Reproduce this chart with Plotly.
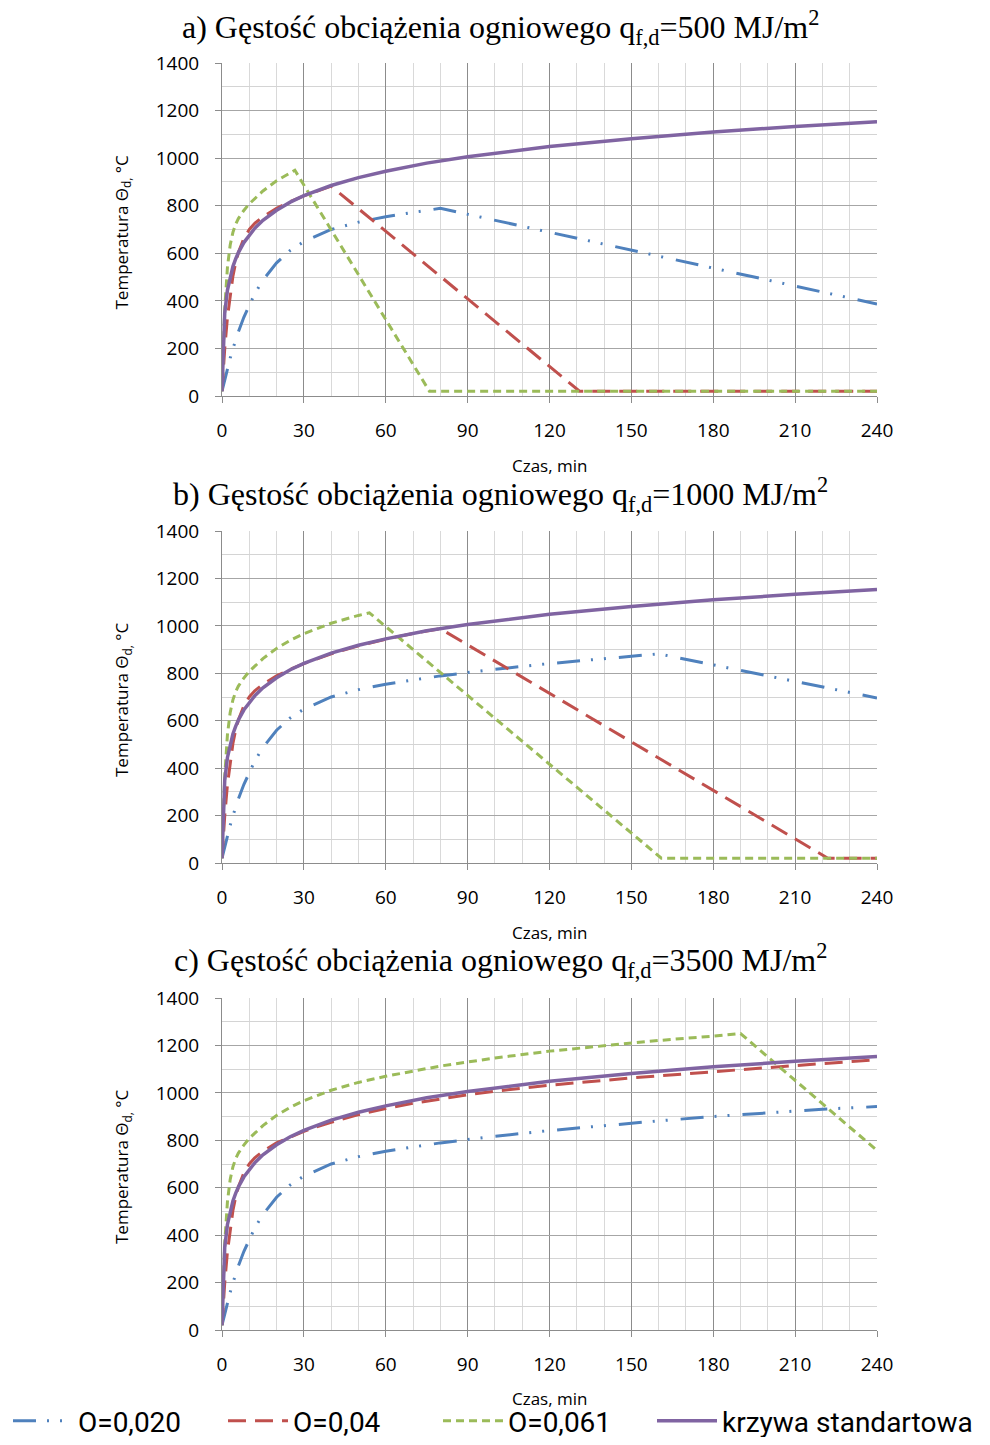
import plotly.graph_objects as go

# ---------------- data ----------------
T_STD = [0, 0.5, 1, 2, 3, 4, 5, 6, 8, 10, 12, 15, 20, 25, 30, 40, 50, 60, 75, 90, 105, 120, 150, 180, 210, 240]
STD = [20, 261, 349, 445, 502, 544, 576, 603, 645, 678, 705, 739, 781, 815, 842, 885, 918, 945, 979, 1006, 1029, 1049, 1082, 1110, 1133, 1153]

# panel a) q = 500 MJ/m2
A_T_020 = [0, 1, 2, 3, 4, 5, 6, 8, 10, 12, 15, 20, 25, 30, 40, 50, 60, 70, 80, 240]
A_020 = [20, 70, 116, 159, 199, 236, 270, 331, 384, 430, 487, 560, 612, 649, 700, 731, 754, 773, 789, 387]
A_T_04 = [0, 0.5, 1, 2, 3, 4, 5, 6, 8, 10, 12, 15, 20, 25, 30, 35, 40, 131, 240]
A_04 = [20, 116, 199, 331, 430, 504, 560, 603, 662, 700, 726, 754, 789, 817, 841, 863, 882, 20, 20]
A_T_061 = [0, 0.5, 1, 2, 3, 4, 5, 6, 8, 10, 12, 15, 20, 25, 26.7, 76, 240]
A_061 = [20, 223, 366, 542, 635, 688, 722, 746, 780, 808, 831, 862, 905, 939, 949, 20, 20]

# panel b) q = 1000 MJ/m2
B_T_020 = [0, 1, 2, 3, 4, 5, 6, 8, 10, 12, 15, 20, 25, 30, 40, 50, 60, 70, 80, 90, 100, 120, 140, 160, 240]
B_020 = [20, 70, 116, 159, 199, 236, 270, 331, 384, 430, 487, 560, 612, 649, 700, 731, 754, 773, 789, 803, 817, 841, 863, 882, 696]
B_T_04 = [0, 0.5, 1, 2, 3, 4, 5, 6, 8, 10, 12, 15, 20, 25, 30, 35, 40, 50, 60, 70, 80, 222, 240]
B_04 = [20, 116, 199, 331, 430, 504, 560, 603, 662, 700, 726, 754, 789, 817, 841, 863, 882, 916, 944, 968, 988, 20, 20]
B_T_061 = [0, 0.5, 1, 2, 3, 4, 5, 6, 8, 10, 12, 15, 20, 25, 30, 40, 50, 54, 161, 240]
B_061 = [20, 223, 366, 542, 635, 688, 722, 746, 780, 808, 831, 862, 905, 939, 967, 1011, 1044, 1055, 20, 20]

# panel c) q = 3500 MJ/m2
C_T_020 = [0, 1, 2, 3, 4, 5, 6, 8, 10, 12, 15, 20, 25, 30, 40, 50, 60, 70, 80, 90, 100, 120, 140, 160, 180, 200, 220, 240]
C_020 = [20, 70, 116, 159, 199, 236, 270, 331, 384, 430, 487, 560, 612, 649, 700, 731, 754, 773, 789, 803, 817, 841, 863, 882, 900, 916, 931, 942]
C_T_04 = [0, 0.5, 1, 2, 3, 4, 5, 6, 8, 10, 12, 15, 20, 25, 30, 35, 40, 50, 60, 70, 80, 90, 100, 120, 150, 180, 210, 240]
C_04 = [20, 116, 199, 331, 430, 504, 560, 603, 662, 700, 726, 754, 789, 815, 838, 858, 876, 908, 934, 956, 975, 992, 1007, 1032, 1063, 1090, 1115, 1140]
C_T_061 = [0, 0.5, 1, 2, 3, 4, 5, 6, 8, 10, 12, 15, 20, 25, 30, 40, 50, 60, 80, 100, 120, 140, 160, 180, 190, 240]
C_061 = [20, 223, 366, 542, 635, 688, 722, 746, 780, 808, 831, 862, 905, 939, 967, 1011, 1044, 1070, 1113, 1147, 1176, 1200, 1221, 1239, 1250, 757]

SERIES_NAMES = ["O=0,020", "O=0,04", "O=0,061", "krzywa standartowa"]
PANEL_TITLES = [
    "a) Gęstość obciążenia ogniowego q<sub>f,d</sub>=500 MJ/m<sup>2</sup>",
    "b) Gęstość obciążenia ogniowego q<sub>f,d</sub>=1000 MJ/m<sup>2</sup>",
    "c) Gęstość obciążenia ogniowego q<sub>f,d</sub>=3500 MJ/m<sup>2</sup>",
]
X_TITLE = "Czas, min"
Y_TITLE = "Temperatura Θ<sub>d,</sub> °C"

PANELS = [
    [(A_T_020, A_020), (A_T_04, A_04), (A_T_061, A_061), (T_STD, STD)],
    [(B_T_020, B_020), (B_T_04, B_04), (B_T_061, B_061), (T_STD, STD)],
    [(C_T_020, C_020), (C_T_04, C_04), (C_T_061, C_061), (T_STD, STD)],
]

# ---------------- styling ----------------
OFF = 8                      # default page margin of the html body
W, H = 990 - 2 * OFF, 1445 - 2 * OFF
COLORS = ["#4F81BD", "#C0504D", "#9BBB59", "#8064A2"]
DASHES = ["23px,11px,2px,11px,2px,13px", "18px,9px", "8px,5px", "solid"]
WIDTHS = [3, 3, 3, 3.5]
LEGENDS = ["legend", "legend", "legend", "legend2"]
TICK_FONT = dict(family="Open Sans, sans-serif", size=19, color="#000000")

X0, X1 = 222, 877
PLOT_Y = [(63, 396), (531, 863), (998, 1330)]
TITLE_Y = [27, 494, 960]
XT_Y = [465, 932, 1398]
LEGEND_Y = 1421


def px_x(p):
    return (p - OFF) / W


def px_y(p):
    return 1 - (p - OFF) / H


fig = go.Figure()
layout = dict(
    width=W, height=H,
    margin=dict(l=0, r=0, t=0, b=0, pad=0, autoexpand=False),
    paper_bgcolor="white", plot_bgcolor="white",
    showlegend=True,
)
annotations = []

for i, series in enumerate(PANELS):
    xa = "x" if i == 0 else f"x{i+1}"
    ya = "y" if i == 0 else f"y{i+1}"
    for j, (tx, ty) in enumerate(series):
        fig.add_trace(go.Scatter(
            x=tx, y=ty, mode="lines", name=SERIES_NAMES[j],
            legendgroup=SERIES_NAMES[j], showlegend=(i == 0), legend=LEGENDS[j],
            line=dict(color=COLORS[j], width=WIDTHS[j], dash=DASHES[j]),
            xaxis=xa, yaxis=ya,
        ))
    top, bot = PLOT_Y[i]
    xkey = "xaxis" if i == 0 else f"xaxis{i+1}"
    ykey = "yaxis" if i == 0 else f"yaxis{i+1}"
    layout[xkey] = dict(
        domain=[px_x(X0), px_x(X1)], anchor=ya, range=[0, 240],
        tick0=0, dtick=30, showgrid=True, gridcolor="#8c8c8c", gridwidth=1,
        minor=dict(dtick=10, showgrid=True, gridcolor="#d9d9d9", gridwidth=1),
        ticks="outside", ticklen=6, tickcolor="#8c8c8c",
        showline=True, linecolor="#8c8c8c", linewidth=1,
        zeroline=False, tickfont=TICK_FONT, ticklabelstandoff=11,
        fixedrange=True, automargin=False,
    )
    layout[ykey] = dict(
        domain=[px_y(bot), px_y(top)], anchor=xa, range=[0, 1400],
        tick0=0, dtick=200, showgrid=True, gridcolor="#a6a6a6", gridwidth=1,
        minor=dict(dtick=100, showgrid=True, gridcolor="#d4d4d4", gridwidth=1),
        ticks="outside", ticklen=6, tickcolor="#8c8c8c",
        showline=True, linecolor="#8c8c8c", linewidth=1,
        zeroline=False, tickfont=TICK_FONT, ticklabelstandoff=12,
        fixedrange=True, automargin=False,
    )
    annotations.append(dict(
        text=PANEL_TITLES[i], x=px_x(500), y=px_y(TITLE_Y[i]), xref="paper", yref="paper",
        xanchor="center", yanchor="middle", showarrow=False,
        font=dict(family="Liberation Serif, Times New Roman, serif", size=32, color="#000000"),
    ))
    annotations.append(dict(
        text=X_TITLE, x=px_x((X0 + X1) / 2), y=px_y(XT_Y[i]), xref="paper", yref="paper",
        xanchor="center", yanchor="middle", showarrow=False,
        font=dict(family="Open Sans, sans-serif", size=17, color="#000000"),
    ))
    annotations.append(dict(
        text=Y_TITLE, x=px_x(122), y=px_y((top + bot) / 2 + 3), xref="paper", yref="paper",
        xanchor="center", yanchor="middle", showarrow=False, textangle=-90,
        font=dict(family="Open Sans, sans-serif", size=17, color="#000000"),
    ))

LEGEND_FONT = dict(family="Roboto, sans-serif", size=28, color="#000000")
layout["annotations"] = annotations
layout["legend"] = dict(
    orientation="h", x=px_x(8), xanchor="left", y=px_y(LEGEND_Y), yanchor="middle",
    font=LEGEND_FONT, itemwidth=60, entrywidth=140, tracegroupgap=0,
    bgcolor="rgba(0,0,0,0)", itemclick=False, itemdoubleclick=False,
)
layout["legend2"] = dict(
    orientation="h", x=px_x(652), xanchor="left", y=px_y(LEGEND_Y), yanchor="middle",
    font=LEGEND_FONT, itemwidth=60, tracegroupgap=0,
    bgcolor="rgba(0,0,0,0)", itemclick=False, itemdoubleclick=False,
)
fig.update_layout(**layout)
fig.write_html("out.html")
